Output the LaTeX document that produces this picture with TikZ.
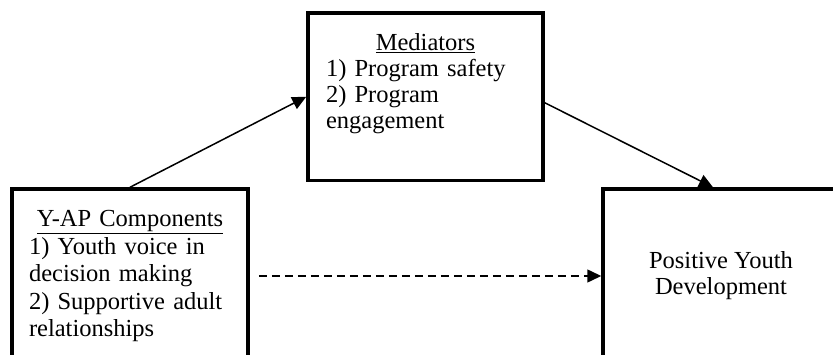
\documentclass[tikz,border=0pt]{standalone}
\usepackage{fontspec}
\setmainfont{Liberation Serif}
\usetikzlibrary{arrows.meta}

\begin{document}
\begin{tikzpicture}[x=1pt,y=1pt,>={Triangle[length=14pt,width=13pt]},line width=1.5pt,
  box node/.style={rectangle,draw,line width=3.5pt,inner sep=0pt,font=\fontsize{24.5}{26}\selectfont},
  text node/.style={inner sep=0pt,font=\fontsize{24.5}{26}\selectfont}]

  \useasboundingbox (0,0) rectangle (833,354);
  \clip (0,0) rectangle (833,354);

  \node[box node,minimum width=236pt,minimum height=174pt,text width=202pt,align=left,
        font=\fontsize{24.5}{27.5}\selectfont] (yap) at (130,78)
    {\makebox[\linewidth]{\underline{Y-AP Components}}\\
     1) Youth voice in\\ decision making\\ 2) Supportive adult\\ relationships};
  \node[box node,minimum width=235pt,minimum height=167.5pt] (med) at (425.5,257.25) {};
  \node[text node,text width=199pt,align=left,anchor=north] (medtext) at ([yshift=-21.5pt]med.north)
    {\makebox[\linewidth]{\underline{Mediators}}\\
     1) Program safety\\ 2) Program\\ engagement};
  \node[box node,minimum width=236pt,minimum height=174pt,align=center] (pyd) at (721,78)
    {Positive Youth\\ Development};

  \path[->]
    (yap.north) edge (med.west)
    ([yshift=-6pt]med.east) edge ([xshift=-8pt]pyd.north)
    (yap.east) edge [dash pattern=on 8pt off 5pt,shorten <=9pt] (pyd.west);
\end{tikzpicture}
\end{document}
